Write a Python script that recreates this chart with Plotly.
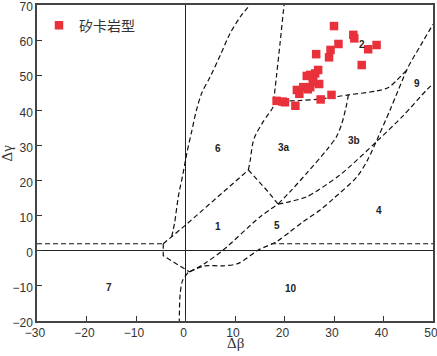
import plotly.graph_objects as go

# ---- sample data (矽卡岩型) ----
sample_x = [30.0, 33.9, 34.1, 38.6, 36.9, 30.9, 29.3, 26.4, 29.0, 35.6,
            26.8, 26.2, 25.2, 25.7, 24.5, 27.0, 25.2, 23.8, 22.5, 23.0,
            24.7, 29.5, 27.3, 18.4, 19.6, 20.1, 22.2, 25.8]
sample_y = [64.0, 61.5, 60.5, 58.6, 57.4, 58.9, 57.2, 56.0, 55.1, 52.9,
            51.5, 50.5, 50.1, 49.1, 49.8, 47.5, 46.6, 46.6, 45.8, 44.7,
            46.0, 44.4, 43.1, 42.7, 42.5, 42.3, 41.3, 48.0]

# ---- field boundaries ----
left_h_x = [-30, -4.5]
left_h_y = [2, 2]
right_h_x = [17.3, 50]
right_h_y = [2, 2]
corner_x = [-4.5, -4.5, 0.8]
corner_y = [2, -1.4, -6]
diag61_x = [-4.5, 0.0, 12.7]
diag61_y = [2, 7.3, 23]
steep_x = [-2.8, -2.2, -1.45, -0.5, 0.3, 1.25, 2.2, 3.3, 5.0, 7.0, 9.0, 11.0, 13.0]
steep_y = [4, 8, 15.4, 22, 28, 34, 40, 45, 49.6, 55.6, 61.9, 66.5, 70]
lowv_x = [0.5, -0.6, -1.1, -1.25]
lowv_y = [-6.2, -8.5, -12.6, -20]
line15_x = [0.8, 3.9, 7.6, 15.1, 18.7]
line15_y = [-6, -3.6, 0.2, 9.7, 13.3]
curveC_x = [0.8, 3.9, 7.6, 10.7, 14.7, 18.4, 21.1, 23.8, 27.2, 30.0, 34.6, 36.8, 38.8, 41.3, 43.0, 45.0, 47.5, 50.0]
curveC_y = [-6, -4.3, -4.3, -3.6, 0.2, 2.6, 5.4, 8.3, 11.6, 15.0, 21.0, 25.9, 32.0, 40.0, 45.8, 52.4, 58.5, 64.5]
curveB_x = [18.7, 21.1, 24.5, 31.2, 38.6, 44.0, 48.7, 50.0]
curveB_y = [13.3, 14.0, 15.4, 21.6, 31.1, 38.5, 45.8, 47.5]
curveA_x = [18.7, 21.1, 24.5, 28.5, 30.5, 31.6, 32.6, 32.9]
curveA_y = [13.3, 16.8, 22.1, 28.7, 32.5, 36.3, 42.0, 44.4]
line3a1_x = [12.7, 16.7, 18.7]
line3a1_y = [23, 16.8, 13.3]
left3a_x = [12.7, 13.1, 13.5, 14.0, 15.7, 17.7, 17.8]
left3a_y = [23, 26, 30, 32.5, 36.8, 41, 42.5]
topv_x = [17.8, 18.4, 19.1, 19.8, 19.9]
topv_y = [42.5, 50, 59.1, 68.6, 70]
top2_x = [17.8, 23.0, 27.0, 32.9, 38.6, 41.0, 42.7, 44.7]
top2_y = [42.5, 42.8, 43.2, 44.4, 45.5, 46.5, 48.6, 51.5]

boundaries = [
    (left_h_x, left_h_y, "linear"), (right_h_x, right_h_y, "linear"),
    (corner_x, corner_y, "linear"), (diag61_x, diag61_y, "linear"),
    (steep_x, steep_y, "spline"), (lowv_x, lowv_y, "spline"),
    (line15_x, line15_y, "spline"), (curveC_x, curveC_y, "spline"),
    (curveB_x, curveB_y, "spline"), (curveA_x, curveA_y, "spline"),
    (line3a1_x, line3a1_y, "linear"), (left3a_x, left3a_y, "spline"),
    (topv_x, topv_y, "spline"), (top2_x, top2_y, "spline"),
]

# ---- field labels ----
label_text = ["1", "2", "3a", "3b", "4", "5", "6", "7", "9", "10"]
label_x = [6.6, 35.6, 19.8, 34.0, 39.1, 18.4, 6.6, -15.4, 46.8, 21.4]
label_y = [6.9, 58.8, 29.5, 31.5, 11.6, 7.3, 29.0, -10.5, 47.7, -10.7]

x_ticks = [-30, -20, -10, 0, 10, 20, 30, 40, 50]
y_ticks = [-20, -10, 0, 10, 20, 30, 40, 50, 60, 70]

fig = go.Figure()
for bx, by, shape in boundaries:
    fig.add_trace(go.Scatter(x=bx, y=by, mode="lines", showlegend=False,
                             hoverinfo="skip",
                             line=dict(color="#111111", width=1.2, dash="5px,3px",
                                       shape=shape, smoothing=0.8)))

fig.add_trace(go.Scatter(x=sample_x, y=sample_y, mode="markers", name="矽卡岩型",
                         marker=dict(symbol="square", size=8.5, color="#E8313A",
                                     line=dict(width=0))))

for t, lx, ly in zip(label_text, label_x, label_y):
    fig.add_annotation(x=lx, y=ly, text="<b>%s</b>" % t, showarrow=False,
                       font=dict(family="Liberation Sans, Arial", size=10, color="#222222"))

# axis titles
fig.add_annotation(xref="paper", yref="paper", x=0.5, y=0, yshift=-22,
                   xanchor="center", yanchor="middle", showarrow=False, text="Δβ",
                   font=dict(family="Liberation Serif", size=15, color="#333333"))
fig.add_annotation(xref="paper", yref="paper", x=0, y=0.53, xshift=-30,
                   xanchor="center", yanchor="middle", showarrow=False, text="Δγ",
                   textangle=-90,
                   font=dict(family="Liberation Serif", size=15, color="#333333"))

axis_common = dict(showgrid=False, showline=True, linecolor="#444444", linewidth=1.5,
                   mirror=True, ticks="inside", ticklen=5, tickwidth=1.2,
                   tickcolor="#333333", zeroline=True, zerolinecolor="#222222",
                   zerolinewidth=1.2, automargin=False, ticklabeloverflow="allow",
                   tickfont=dict(family="Liberation Sans, Arial", size=12, color="#333333"))

fig.update_layout(
    width=437, height=356,
    margin=dict(l=37, r=4, t=5, b=35),
    paper_bgcolor="white", plot_bgcolor="white",
    showlegend=True,
    legend=dict(x=0.005, y=0.985, xanchor="left", yanchor="top",
                bgcolor="rgba(0,0,0,0)",
                font=dict(family="Noto Sans CJK SC", size=14, color="#333333")),
    xaxis=dict(range=[-30, 50], tickvals=x_ticks, ticklabelshift=-2, **axis_common),
    yaxis=dict(range=[-20, 70], tickvals=y_ticks, ticklabelshift=2, **axis_common),
)

fig.write_html("out.html", config={"displayModeBar": False},
               post_script="document.body.style.margin='0';document.body.style.padding='0';")
